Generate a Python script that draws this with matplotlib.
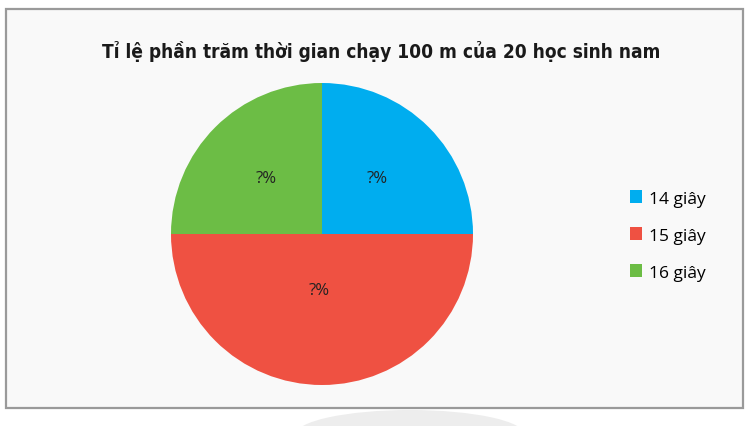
import matplotlib.pyplot as plt
from matplotlib.patches import Rectangle, Ellipse

title = "Tỉ lệ phần trăm thời gian chạy 100 m của 20 học sinh nam"
labels = ["14 giây", "15 giây", "16 giây"]
shares = [25, 50, 25]
colors = ["#00adef", "#ef5142", "#6cbd45"]

plt.rcParams['font.family'] = ['Open Sans', 'DejaVu Sans']

fig = plt.figure(figsize=(7.55, 4.27), dpi=100)
fig.patch.set_facecolor('white')

# faint shadow below the frame
fig.patches.append(Ellipse((410 / 755, 1 - 436 / 427), 230 / 755, 50 / 427,
                           transform=fig.transFigure, facecolor='#ededed',
                           edgecolor='none', zorder=0))
# framed panel
fig.patches.append(Rectangle((6 / 755, 1 - 409 / 427), 737 / 755, 399 / 427,
                             transform=fig.transFigure, facecolor='#f9f9f9',
                             edgecolor='#9a9a9a', linewidth=1.6, zorder=1))

fig.text(381 / 755, 1 - 51 / 427, title, ha='center', va='center',
         fontsize=13.7, fontweight='bold', color='#1a1a1a',
         family='DejaVu Sans', fontstretch='condensed')

r = 151
cx, cy = 322, 235
ax = fig.add_axes([(cx - r) / 755, 1 - (cy + r) / 427, 2 * r / 755, 2 * r / 427])
ax.set_zorder(2)
wedges, texts, autotexts = ax.pie(shares, colors=colors, startangle=90,
                                  counterclock=False, radius=1,
                                  autopct=lambda p: '?%', pctdistance=0.52,
                                  wedgeprops=dict(linewidth=0),
                                  textprops=dict(fontsize=12, color='#222222'))
# the label of the big slice sits closer to the centre
autotexts[1].set_position((-0.02, -0.37))
ax.set_xlim(-1, 1)
ax.set_ylim(-1, 1)
ax.set_aspect('equal')
ax.axis('off')

leg = fig.legend(wedges, labels, loc='center left',
                 bbox_to_anchor=(614 / 755, 1 - 236.5 / 427), frameon=False,
                 fontsize=12.5, handlelength=0.7, handleheight=0.7,
                 handletextpad=0.4, labelspacing=1.2)
leg.set_zorder(3)

fig.savefig('out.png', dpi=100, facecolor='white')
